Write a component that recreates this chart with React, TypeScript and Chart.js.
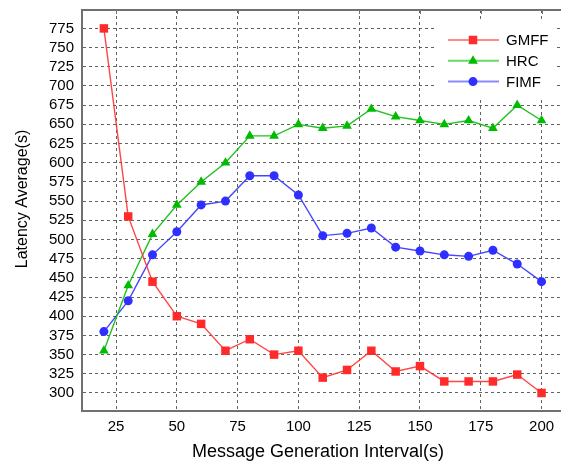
import { useEffect, useRef } from "react";
import { Chart, registerables } from "chart.js";

Chart.register(...registerables);

// Message generation interval (s)
const intervals = [20, 30, 40, 50, 60, 70, 80, 90, 100, 110, 120, 130, 140, 150, 160, 170, 180, 190, 200];

// Average latency (s) per scheme
const gmff = [775, 530, 445, 400, 390, 355, 370, 350, 355, 320, 330, 355, 328, 335, 315, 315, 315, 324, 300];
const hrc = [355, 440, 507, 545, 575, 600, 635, 635, 650, 645, 648, 670, 660, 655, 650, 655, 645, 675, 655];
const fimf = [380, 420, 480, 510, 545, 550, 583, 583, 558, 505, 508, 515, 490, 485, 480, 478, 486, 468, 445];

const seriesNames = ["GMFF", "HRC", "FIMF"];
const xTickValues = [25, 50, 75, 100, 125, 150, 175, 200];
const yTickValues = [300, 325, 350, 375, 400, 425, 450, 475, 500, 525, 550, 575, 600, 625, 650, 675, 700, 725, 750, 775];
const xTitle = "Message Generation Interval(s)";
const yTitle = "Latency Average(s)";

const FONT = "'Liberation Sans', Arial, Helvetica, sans-serif";
const FRAME = "#707070";
const GRID = "rgba(70,70,70,0.85)";

type Marker = "rect" | "triangle" | "circle";

function drawMarker(ctx: CanvasRenderingContext2D, kind: Marker, x: number, y: number, color: string) {
  ctx.fillStyle = color;
  ctx.beginPath();
  if (kind === "rect") {
    ctx.rect(x - 4.25, y - 4.25, 8.5, 8.5);
  } else if (kind === "triangle") {
    ctx.moveTo(x, y - 5.5);
    ctx.lineTo(x + 4.9, y + 3);
    ctx.lineTo(x - 4.9, y + 3);
    ctx.closePath();
  } else {
    ctx.arc(x, y, 4.5, 0, Math.PI * 2);
  }
  ctx.fill();
}

const framePlugin = {
  id: "frameAndTitles",
  afterDraw(chart: any) {
    const { ctx, chartArea: a } = chart;
    const xs = chart.scales.x;
    ctx.save();
    // top frame line with inward tick marks
    ctx.strokeStyle = FRAME;
    ctx.lineWidth = 2;
    ctx.beginPath();
    ctx.moveTo(a.left - 1, a.top);
    ctx.lineTo(chart.width, a.top);
    ctx.stroke();
    ctx.lineWidth = 1;
    for (const v of xTickValues) {
      const px = Math.round(xs.getPixelForValue(v)) + 0.5;
      ctx.beginPath();
      ctx.moveTo(px, a.top);
      ctx.lineTo(px, a.top + 4);
      ctx.stroke();
    }

    // axis titles
    ctx.fillStyle = "#000";
    ctx.font = `18px ${FONT}`;
    ctx.textAlign = "center";
    ctx.textBaseline = "middle";
    ctx.fillText(xTitle, 318, 452);
    ctx.save();
    ctx.translate(23, 199);
    ctx.rotate(-Math.PI / 2);
    ctx.font = `16px ${FONT}`;
    ctx.fillText(yTitle, 0, 0);
    ctx.restore();

    // legend in the upper right corner of the plot
    const x0 = 437;
    const y0 = a.top + 12;
    ctx.fillStyle = "#fff";
    ctx.fillRect(x0, y0, 119, 75);
    chart.data.datasets.forEach((ds: any, i: number) => {
      const y = y0 + 18 + i * 20.8;
      ctx.strokeStyle = ds.legendLine;
      ctx.lineWidth = 2;
      ctx.beginPath();
      ctx.moveTo(x0 + 11, y);
      ctx.lineTo(x0 + 62, y);
      ctx.stroke();
      drawMarker(ctx, ds.marker, x0 + 36, y, ds.pointBackgroundColor);
      ctx.fillStyle = "#000";
      ctx.font = `15px ${FONT}`;
      ctx.textAlign = "left";
      ctx.textBaseline = "middle";
      ctx.fillText(ds.label, x0 + 69, y + 1);
    });
    ctx.restore();
  },
};

export default function App() {
  const canvasRef = useRef<HTMLCanvasElement | null>(null);

  useEffect(() => {
    const canvas = canvasRef.current;
    if (!canvas) return;

    const toPoints = (vals: number[]) => intervals.map((x, i) => ({ x, y: vals[i] }));

    const chart = new Chart(canvas, {
      type: "line",
      data: {
        datasets: [
          {
            label: seriesNames[0],
            data: toPoints(gmff),
            borderColor: "rgba(255,50,50,0.9)",
            borderWidth: 1.4,
            pointStyle: "rect",
            pointRadius: 6,
            pointBackgroundColor: "#ff2a2a",
            pointBorderWidth: 0,
            tension: 0,
            marker: "rect",
            legendLine: "rgba(255,60,60,0.6)",
          } as any,
          {
            label: seriesNames[1],
            data: toPoints(hrc),
            borderColor: "rgba(20,190,20,0.95)",
            borderWidth: 1.4,
            pointStyle: "triangle",
            pointRadius: 5.6,
            pointBackgroundColor: "#00bb00",
            pointBorderWidth: 0,
            tension: 0,
            marker: "triangle",
            legendLine: "rgba(20,200,20,0.65)",
          } as any,
          {
            label: seriesNames[2],
            data: toPoints(fimf),
            borderColor: "rgba(50,50,255,0.9)",
            borderWidth: 1.4,
            pointStyle: "circle",
            pointRadius: 4.5,
            pointBackgroundColor: "#2f2fff",
            pointBorderWidth: 0,
            tension: 0,
            marker: "circle",
            legendLine: "rgba(60,60,255,0.6)",
          } as any,
        ],
      },
      options: {
        animation: false,
        responsive: false,
        devicePixelRatio: 1,
        layout: { autoPadding: false, padding: { top: 10, right: 0, left: 0, bottom: 0 } },
        plugins: {
          legend: { display: false },
          tooltip: { enabled: false },
        },
        scales: {
          x: {
            type: "linear",
            min: 11,
            max: 208,
            afterBuildTicks: (scale: any) => {
              scale.ticks = xTickValues.map((value) => ({ value }));
            },
            afterFit: (scale: any) => {
              scale.height = 57;
              scale.paddingLeft = 0;
              scale.paddingRight = 0;
            },
            ticks: {
              color: "#000",
              font: { family: FONT, size: 15 },
              padding: 7,
              maxRotation: 0,
              autoSkip: false,
            },
            grid: {
              color: GRID,
              lineWidth: 1,
              drawTicks: false,
            },
            border: { display: true, color: FRAME, width: 2, dash: [3, 3] },
          },
          y: {
            type: "linear",
            min: 276.5,
            max: 799,
            afterBuildTicks: (scale: any) => {
              scale.ticks = yTickValues.map((value) => ({ value }));
            },
            afterFit: (scale: any) => {
              scale.width = 82;
              scale.paddingTop = 0;
              scale.paddingBottom = 0;
            },
            ticks: {
              color: "#000",
              font: { family: FONT, size: 15 },
              padding: 8,
              autoSkip: false,
            },
            grid: {
              color: GRID,
              lineWidth: 1,
              drawTicks: false,
            },
            border: { display: true, color: FRAME, width: 2, dash: [3, 3] },
          },
        },
      },
      plugins: [framePlugin],
    });

    return () => chart.destroy();
  }, []);

  return (
    <div style={{ position: "absolute", left: 0, top: 0, width: 561, height: 468, background: "#fff", overflow: "hidden" }}>
      <canvas ref={canvasRef} width={561} height={468} style={{ display: "block", width: 561, height: 468 }} />
    </div>
  );
}
